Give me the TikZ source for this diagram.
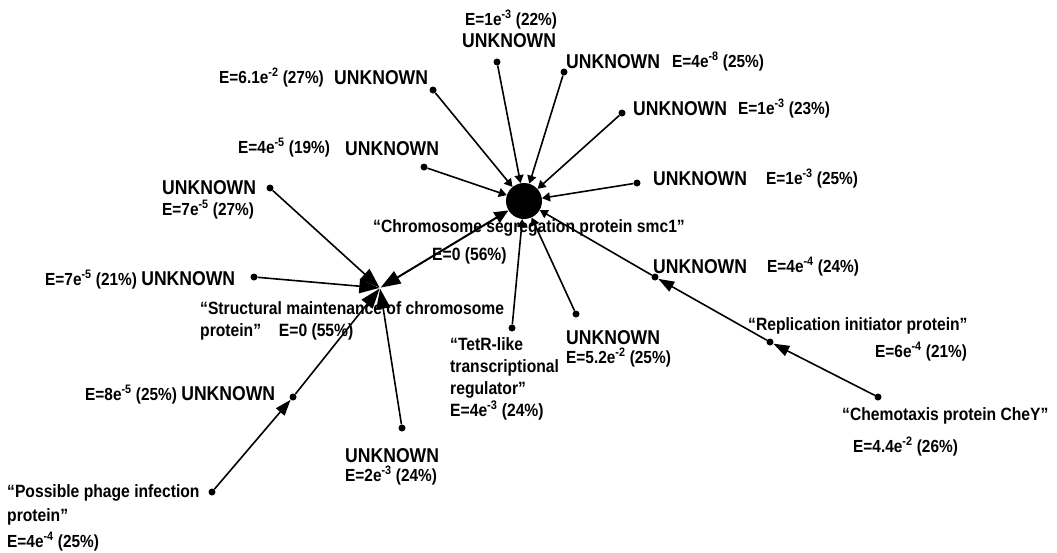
\documentclass[tikz,border=0pt]{standalone}
\usepackage{fontspec}
\setmainfont{Liberation Sans}[FakeStretch=0.88]
\usepackage{tikz}
\usetikzlibrary{arrows.meta,positioning,calc}
\newcommand{\unk}{UNKNOWN}
\newcommand{\ex}[1]{e\textsuperscript{-#1}}
\newcommand{\bigu}{{\fontsize{20}{22}\selectfont UNKNOWN}}

\begin{document}
\begin{tikzpicture}[x=1pt, y=-1pt, dot/.style={circle, fill=black, inner sep=0pt, minimum size=7pt}, hub/.style={circle, inner sep=0pt, minimum size=1pt}, bighub/.style={circle, fill=black, inner sep=0pt, minimum size=36pt}, lbl/.style={anchor=base west, inner sep=0pt, font=\bfseries\fontsize{17.5}{22}\selectfont}, big/.style={anchor=base west, inner sep=0pt, font=\bfseries\fontsize{20}{22}\selectfont}, prot/.style={anchor=base west, inner sep=0pt, font=\bfseries\fontsize{17.8}{22}\selectfont}, spoke/.style={-{Triangle[length=20pt,width=14pt]}, line width=1.6pt}, hubspoke/.style={-{Triangle[length=8pt,width=9pt]}, line width=1.6pt}, link/.style={-{Triangle[length=16pt,width=11pt]}, line width=1.6pt}, dbl/.style={{Triangle[length=20pt,width=14pt]}-{Triangle[length=14pt,width=12pt]}, line width=2pt}]
\useasboundingbox (0,0) rectangle (1057,552);
\node[bighub] (smcA) at (524,201) {};
\node[hub] (smcB) at (380,288) {};
\node[dot] (u22) at (497,62) {};
\node[dot] (u48) at (564,72) {};
\node[dot] (u23) at (622,113) {};
\node[dot] (u25) at (637,183) {};
\node[dot] (u27a) at (433,90) {};
\node[dot] (u19) at (424,167) {};
\node[dot] (tetr) at (512,328) {};
\node[dot] (u52) at (576,314) {};
\node[dot] (u44) at (655,277) {};
\node[dot] (rep) at (770,342) {};
\node[dot] (chey) at (878,397) {};
\node[dot] (u27b) at (270,188) {};
\node[dot] (u21) at (254,277) {};
\node[dot] (u85) at (293,397) {};
\node[dot] (u24) at (402,428) {};
\node[dot] (phage) at (212,492) {};
\node[lbl] (l22a) at (465,25) {E=1\ex{3} (22\%)};
\node[big] (l22b) at (462,47) {\unk};
\node[big] (l48a) at (566,68) {\unk};
\node[lbl] (l48b) at (672,67) {E=4\ex{8} (25\%)};
\node[big] (l23a) at (633,115) {\unk};
\node[lbl] (l23b) at (738,114) {E=1\ex{3} (23\%)};
\node[big] (l25a) at (653,185) {\unk};
\node[lbl] (l25b) at (766,184) {E=1\ex{3} (25\%)};
\node[lbl] (l27a) at (219,83) {E=6.1\ex{2} (27\%)};
\node[big] (l27b) at (334,84) {\unk};
\node[lbl] (l19a) at (238,153) {E=4\ex{5} (19\%)};
\node[big] (l19b) at (345,155) {\unk};
\node[big] (l27c) at (162,194) {\unk};
\node[lbl] (l27d) at (162,215) {E=7\ex{5} (27\%)};
\node[lbl] (l21) at (45,285) {E=7\ex{5} (21\%) \bigu};
\node[prot] (lA1) at (373,232) {“Chromosome segregation protein smc1”};
\node[prot] (lA2) at (432,260) {E=0 (56\%)};
\node[prot] (lB1) at (200,314) {“Structural maintenance of chromosome};
\node[prot] (lB2) at (200,336) {protein”\quad E=0 (55\%)};
\node[prot] (lt1) at (450,350) {“TetR-like};
\node[prot] (lt2) at (450,372) {transcriptional};
\node[prot] (lt3) at (450,394) {regulator”};
\node[prot] (lt4) at (450,416) {E=4\ex{3} (24\%)};
\node[big] (l52a) at (566,344) {\unk};
\node[lbl] (l52b) at (566,363) {E=5.2\ex{2} (25\%)};
\node[big] (l44a) at (653,273) {\unk};
\node[lbl] (l44b) at (767,272) {E=4\ex{4} (24\%)};
\node[prot] (lr1) at (748,330) {“Replication initiator protein”};
\node[lbl] (lr2) at (875,357) {E=6\ex{4} (21\%)};
\node[prot] (lc1) at (842,420) {“Chemotaxis protein CheY”};
\node[lbl] (lc2) at (853,452) {E=4.4\ex{2} (26\%)};
\node[lbl] (l85) at (85,400) {E=8\ex{5} (25\%) \bigu};
\node[big] (l24a) at (345,462) {\unk};
\node[lbl] (l24b) at (345,481) {E=2\ex{3} (24\%)};
\node[prot] (lp1) at (7,497) {“Possible phage infection};
\node[prot] (lp2) at (7,521) {protein”};
\node[lbl] (lp3) at (7,547) {E=4\ex{4} (25\%)};
\draw[hubspoke](u22)--(smcA); \draw[hubspoke](u48)--(smcA); \draw[hubspoke](u23)--(smcA); \draw[hubspoke](u25)--(smcA); \draw[hubspoke](u27a)--(smcA); \draw[hubspoke](u19)--(smcA); \draw[hubspoke](tetr)--(smcA); \draw[hubspoke](u52)--(smcA); \draw[hubspoke](u44)--(smcA);
\draw[link](chey)--(rep); \draw[link](rep)--(u44);
\draw[spoke](u27b)--(smcB); \draw[spoke](u21)--(smcB); \draw[spoke](u24)--(smcB); \draw[spoke](u85)--(smcB); \draw[link](phage)--(u85);
\draw[dbl](smcB)--(smcA);
\end{tikzpicture}
\end{document}
